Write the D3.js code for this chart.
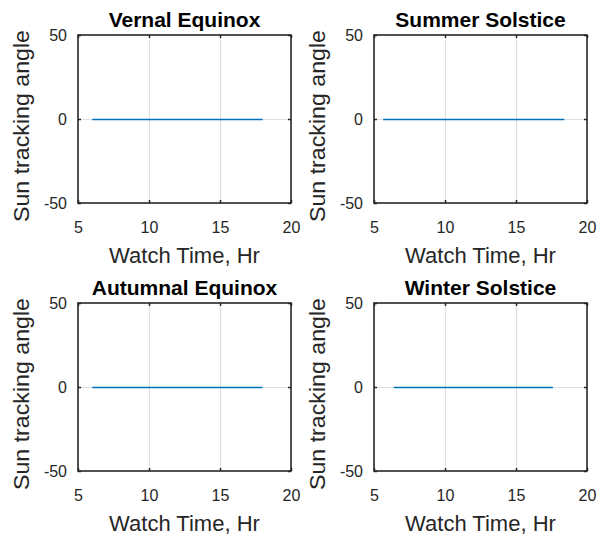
<!DOCTYPE html>
<html>
<head>
<meta charset="utf-8">
<script src="https://cdn.jsdelivr.net/npm/d3@7/dist/d3.min.js"></script>
<style>
  html, body { margin: 0; padding: 0; background: #fff; }
  svg { display: block; }
  text { font-family: "Liberation Sans", Arial, Helvetica, sans-serif; fill: #262626; }
</style>
</head>
<body>
<script>
// Sun tracking angle over the day for four dates of the year
const titles = ["Vernal Equinox", "Summer Solstice", "Autumnal Equinox", "Winter Solstice"];

const vernalHours    = [6, 7, 8, 9, 10, 11, 12, 13, 14, 15, 16, 17, 18];
const vernalAngle    = [0, 0, 0, 0, 0, 0, 0, 0, 0, 0, 0, 0, 0];
const summerHours    = [5.65, 7, 8, 9, 10, 11, 12, 13, 14, 15, 16, 17, 18.4];
const summerAngle    = [0, 0, 0, 0, 0, 0, 0, 0, 0, 0, 0, 0, 0];
const autumnalHours  = [6, 7, 8, 9, 10, 11, 12, 13, 14, 15, 16, 17, 18];
const autumnalAngle  = [0, 0, 0, 0, 0, 0, 0, 0, 0, 0, 0, 0, 0];
const winterHours    = [6.4, 7, 8, 9, 10, 11, 12, 13, 14, 15, 16, 17, 17.6];
const winterAngle    = [0, 0, 0, 0, 0, 0, 0, 0, 0, 0, 0, 0, 0];

const xTicks = [5, 10, 15, 20];
const yTicks = [-50, 0, 50];
const xDomain = [5, 20];
const yDomain = [-50, 50];
const xLabel = "Watch Time, Hr";
const yLabel = "Sun tracking angle";

const series = [
  { hours: vernalHours, angle: vernalAngle },
  { hours: summerHours, angle: summerAngle },
  { hours: autumnalHours, angle: autumnalAngle },
  { hours: winterHours, angle: winterAngle }
];

const W = 611, H = 535;
const cellLeft = [78, 374];
const cellTop = [35, 303];
const plotW = 213, plotH = 168;

const svg = d3.select("body").append("svg").attr("width", W).attr("height", H);

const ink = "#262626";
const gridColor = "#dfdfdf";
const lineColor = "#0072bd";
const fmt = d => String(d);   // plain hyphen for negatives

series.forEach((s, i) => {
  const col = i % 2, row = Math.floor(i / 2);
  const left = cellLeft[col], top = cellTop[row];
  const g = svg.append("g").attr("transform", `translate(${left},${top})`);

  const x = d3.scaleLinear().domain(xDomain).range([0, plotW]);
  const y = d3.scaleLinear().domain(yDomain).range([plotH, 0]);

  // grid lines at interior ticks
  g.append("g").selectAll("line")
    .data(xTicks.filter(t => t > xDomain[0] && t < xDomain[1]))
    .join("line")
    .attr("x1", d => Math.round(x(d)) + 0.5).attr("x2", d => Math.round(x(d)) + 0.5)
    .attr("y1", 0).attr("y2", plotH)
    .attr("stroke", gridColor).attr("stroke-width", 1.2);
  g.append("g").selectAll("line")
    .data(yTicks.filter(t => t > yDomain[0] && t < yDomain[1]))
    .join("line")
    .attr("y1", d => Math.round(y(d)) + 0.5).attr("y2", d => Math.round(y(d)) + 0.5)
    .attr("x1", 0).attr("x2", plotW)
    .attr("stroke", gridColor).attr("stroke-width", 1.2);

  // data line
  const pts = s.hours.map((h, k) => [h, s.angle[k]]);
  g.append("path")
    .datum(pts)
    .attr("fill", "none")
    .attr("stroke", lineColor)
    .attr("stroke-width", 1.5)
    .attr("d", d3.line().x(d => x(d[0])).y(d => Math.round(y(d[1])) + 0.5));

  // axes with inward ticks
  const xb = d3.axisBottom(x).tickValues(xTicks).tickSizeInner(-3).tickSizeOuter(0).tickPadding(19).tickFormat(fmt);
  const xt = d3.axisTop(x).tickValues(xTicks).tickSizeInner(-3).tickSizeOuter(0).tickFormat("");
  const yl = d3.axisLeft(y).tickValues(yTicks).tickSizeInner(-3).tickSizeOuter(0).tickPadding(11).tickFormat(fmt);
  const yr = d3.axisRight(y).tickValues(yTicks).tickSizeInner(-3).tickSizeOuter(0).tickFormat("");

  const styleAxis = a => {
    a.select(".domain").remove();
    a.selectAll(".tick line").attr("stroke", ink).attr("stroke-width", 1.5);
    a.selectAll(".tick text").attr("fill", ink).style("font-size", "16px")
      .style("font-family", '"Liberation Sans", Arial, sans-serif');
  };
  g.append("g").attr("transform", `translate(0,${plotH})`).call(xb).call(styleAxis);
  g.append("g").call(xt).call(styleAxis);
  g.append("g").call(yl).call(styleAxis);
  g.append("g").attr("transform", `translate(${plotW},0)`).call(yr).call(styleAxis);

  // box
  g.append("rect")
    .attr("x", 0).attr("y", 0).attr("width", plotW).attr("height", plotH)
    .attr("fill", "none").attr("stroke", ink).attr("stroke-width", 1.6);

  // title
  g.append("text")
    .attr("x", plotW / 2).attr("y", -8)
    .attr("text-anchor", "middle")
    .style("font-size", "21px").style("font-weight", "bold")
    .style("fill", "#000")
    .text(titles[i]);

  // x label
  g.append("text")
    .attr("x", plotW / 2).attr("y", plotH + 60)
    .attr("text-anchor", "middle")
    .style("font-size", "22px")
    .text(xLabel);

  // y label
  g.append("text")
    .attr("transform", `translate(-49,${plotH / 2 + 7}) rotate(-90)`)
    .attr("text-anchor", "middle")
    .attr("textLength", 192)
    .attr("lengthAdjust", "spacingAndGlyphs")
    .style("font-size", "22px")
    .text(yLabel);
});
</script>
</body>
</html>
